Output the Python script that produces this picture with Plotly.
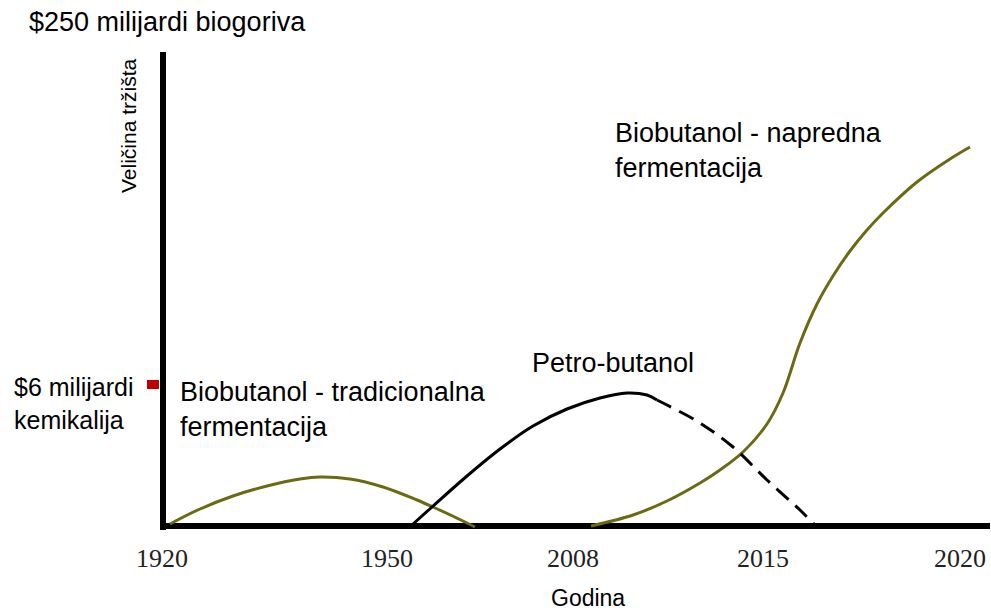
import plotly.graph_objects as go

# ---- data (schematic market-size curves) ----
# x: position along the time axis, y: relative market size
tick_pos = [-1, 224, 410, 600, 797]
tick_labels = ["1920", "1950", "2008", "2015", "2020"]

trad_x = [7, 37, 70, 104, 137, 157, 187, 220, 254, 270, 304, 312]
trad_y = [2, 17, 30, 40, 47, 49, 47, 39, 26, 19, 3, -1]

petro_x = [248, 269, 304, 337, 370, 404, 437, 464, 484, 494]
petro_y = [0, 19, 50, 77, 100, 117, 128, 133, 131, 126]

petro_fc_x = [494, 504, 537, 570, 604, 637, 650, 654]
petro_fc_y = [126, 121, 103, 79, 46, 16, 3, 0]

adv_x = [428, 470, 504, 537, 557, 580, 604, 620, 637, 654, 670, 687, 704, 720, 754, 787, 807]
adv_y = [0, 11, 25, 43, 56, 74, 102, 133, 183, 222, 250, 275, 296, 313, 344, 367, 379]

chem_level = 141.5  # "$6 milijardi kemikalija" level

OLIVE = "#6b6a14"
SANS = "Liberation Sans, Arial, sans-serif"
SERIF = "Liberation Serif, Times New Roman, serif"

fig = go.Figure()
fig.add_trace(go.Scatter(x=trad_x, y=trad_y, mode="lines",
                         line=dict(color=OLIVE, width=3, shape="spline", smoothing=1.0),
                         hoverinfo="skip"))
fig.add_trace(go.Scatter(x=adv_x, y=adv_y, mode="lines",
                         line=dict(color=OLIVE, width=3, shape="spline", smoothing=1.0),
                         hoverinfo="skip"))
fig.add_trace(go.Scatter(x=petro_x, y=petro_y, mode="lines",
                         line=dict(color="black", width=3, shape="spline", smoothing=1.0),
                         hoverinfo="skip"))
fig.add_trace(go.Scatter(x=petro_fc_x, y=petro_fc_y, mode="lines",
                         line=dict(color="black", width=3, shape="spline", smoothing=1.0,
                                   dash="16px,9px"),
                         hoverinfo="skip"))

W, H = 991, 610
L, R, T, B = 160, 1, 52, 80
PW, PH = W - L - R, H - T - B


def px(x):
    return (x - L) / PW


def py(y):
    return (H - B - y) / PH


def ann(text, x, y, size, xanchor="left", yanchor="middle", font=SANS, angle=0, align="left"):
    fig.add_annotation(text=text, x=px(x), y=py(y), xref="paper", yref="paper",
                       xanchor=xanchor, yanchor=yanchor, showarrow=False, align=align,
                       textangle=angle, font=dict(family=font, size=size, color="black"))


ann("$250 milijardi biogoriva", 27, 22, 27)
ann("Veličina tržišta", 128, 126, 21, xanchor="center", angle=-90)
ann("$6 milijardi<br>kemikalija", 12, 403, 25)
ann("Biobutanol - tradicionalna<br>fermentacija", 178, 409, 27)
ann("Petro-butanol", 530, 363, 27)
ann("Biobutanol - napredna<br>fermentacija", 613, 150, 27)
ann("Godina", 588, 598, 23, xanchor="center")

fig.update_layout(
    width=W, height=H,
    margin=dict(l=L, r=R, t=T, b=B, pad=0),
    paper_bgcolor="white", plot_bgcolor="white",
    showlegend=False,
    xaxis=dict(range=[L - 163, W - R - 163], showgrid=False, showline=False,
               zeroline=True, zerolinecolor="black", zerolinewidth=6,
               tickmode="array", tickvals=tick_pos, ticktext=tick_labels,
               ticks="", tickfont=dict(family=SERIF, size=26, color="#222222"),
               ticklabelstandoff=10, fixedrange=True),
    yaxis=dict(range=[526 - (H - B), 526 - T], showgrid=False, showline=False,
               zeroline=True, zerolinecolor="black", zerolinewidth=6,
               tickmode="array", tickvals=[chem_level], ticktext=[""],
               ticks="outside", ticklen=12, tickwidth=9, tickcolor="#c00000",
               showticklabels=False, fixedrange=True),
)

fig.write_html("out.html", config={"displayModeBar": False},
               post_script="document.body.style.margin='0';")
